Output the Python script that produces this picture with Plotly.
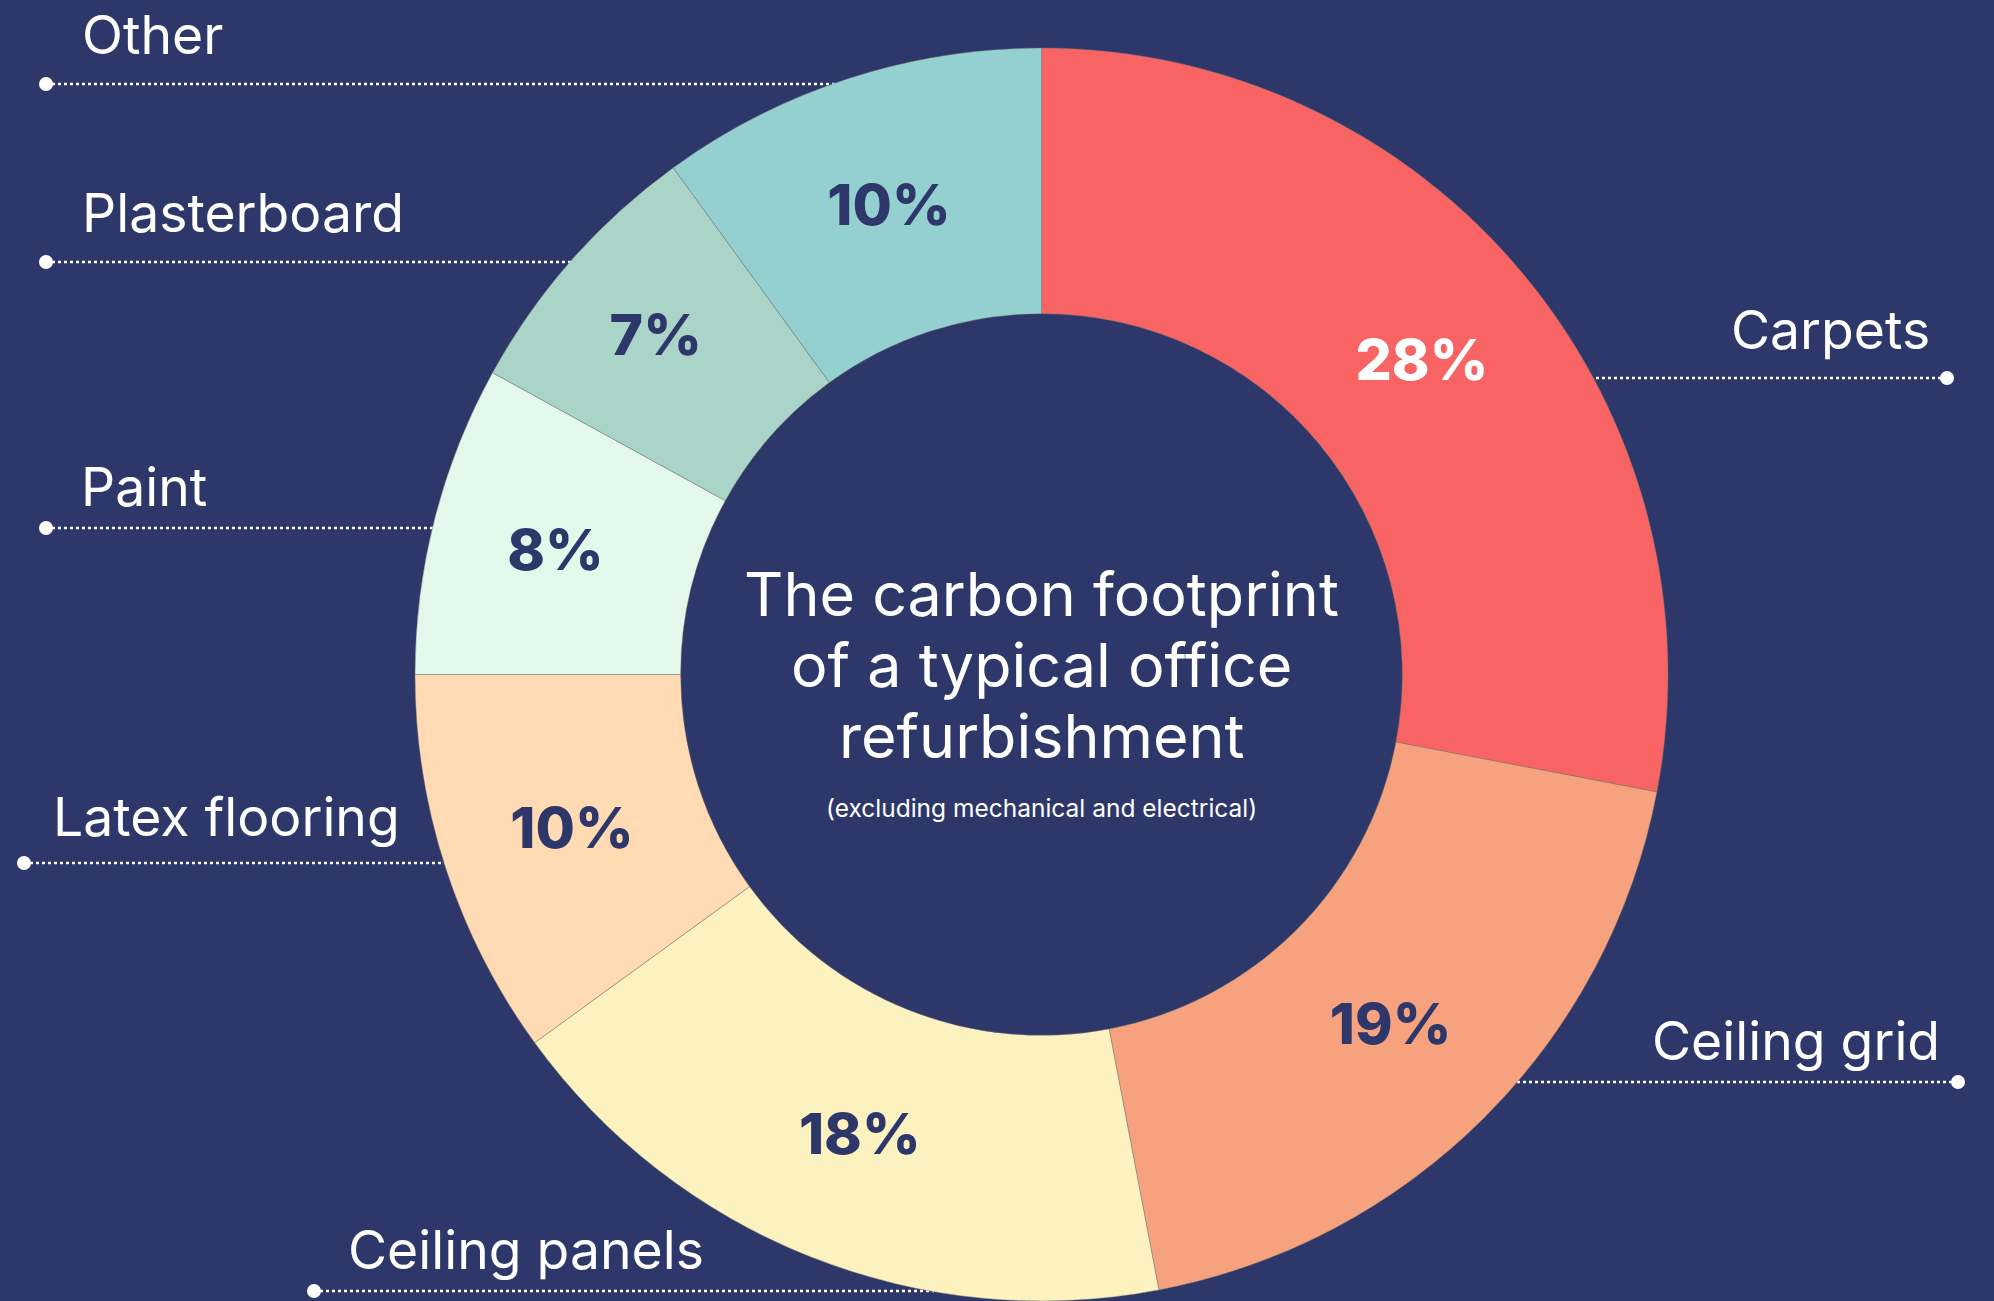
import plotly.graph_objects as go
import numpy as np

# ---- data ----
categories = ["Carpets", "Ceiling grid", "Ceiling panels", "Latex flooring", "Paint", "Plasterboard", "Other"]
values = [28, 19, 18, 10, 8, 7, 10]
colors = ["#F86464", "#F7A27E", "#FCF2C0", "#FFDAB2", "#E3F8EB", "#ABD4C8", "#95D0D0"]
text_colors = ["#FFFFFF", "#2E3769", "#2E3769", "#2E3769", "#2E3769", "#2E3769", "#2E3769"]

title_lines = ["The carbon footprint", "of a typical office", "refurbishment"]
subtitle = "(excluding mechanical and electrical)"

BG = "#2E3769"
W, H = 1994, 1301

# pie geometry (pixels)
CX, CY, R = 1041.5, 674.5, 626.5
HOLE = 0.576

# external label layout: (side, dot_x, line_y, text_x, text_y)
label_layout = {
    "Other":          ("left", 46, 84, 80, 34),
    "Plasterboard":   ("left", 46, 262, 80, 212),
    "Paint":          ("left", 46, 528, 79, 486),
    "Latex flooring": ("left", 24, 863, 51, 816),
    "Ceiling panels": ("left", 314, 1291, 346, 1249),
    "Carpets":        ("right", 1947, 378, 1932, 329),
    "Ceiling grid":   ("right", 1958, 1082, 1942, 1040),
}
title_y = [594, 665, 736]
subtitle_y = 808

FONT = "Inter"

fig = go.Figure()

# leader lines and dots (drawn on hidden pixel axes, beneath the pie)
for cat in categories:
    side, dx, ly, tx, ty = label_layout[cat]
    dy = ly - CY
    half = np.sqrt(max(R**2 - dy**2, 0)) - 4
    ex = CX - half if side == "left" else CX + half
    fig.add_trace(go.Scatter(x=[dx, ex], y=[ly, ly], mode="lines",
                             line=dict(color="white", width=2.5, dash="dot"),
                             hoverinfo="skip", showlegend=False))
    fig.add_trace(go.Scatter(x=[dx], y=[ly], mode="markers",
                             marker=dict(color="white", size=14),
                             hoverinfo="skip", showlegend=False))

fig.add_trace(go.Pie(
    labels=categories,
    values=values,
    sort=False,
    direction="clockwise",
    rotation=0,
    hole=HOLE,
    marker=dict(colors=colors, line=dict(color="rgba(120,120,110,0.45)", width=1)),
    texttemplate="%{value}%",
    textposition="inside",
    insidetextorientation="horizontal",
    textfont=dict(family=FONT, size=57, color=text_colors, weight=800),
    hoverinfo="skip",
    showlegend=False,
    domain=dict(x=[(CX - R) / W, (CX + R) / W], y=[max((H - CY - R) / H, 0), (H - CY + R) / H]),
))

annotations = []
for cat in categories:
    side, dx, ly, tx, ty = label_layout[cat]
    annotations.append(dict(x=tx, y=ty, xref="x", yref="y", text=cat, showarrow=False,
                            xanchor="left" if side == "left" else "right", yanchor="middle",
                            font=dict(family=FONT, size=53.5, color="white")))

for line, yy in zip(title_lines, title_y):
    annotations.append(dict(x=CX, y=yy, xref="x", yref="y", text=line,
                            showarrow=False, xanchor="center", yanchor="middle",
                            font=dict(family=FONT, size=61, color="white")))
annotations.append(dict(x=CX, y=subtitle_y, xref="x", yref="y", text=subtitle,
                        showarrow=False, xanchor="center", yanchor="middle",
                        font=dict(family=FONT, size=24.5, color="white")))

fig.update_layout(
    width=W, height=H,
    margin=dict(l=0, r=0, t=0, b=0),
    paper_bgcolor=BG, plot_bgcolor=BG,
    xaxis=dict(range=[0, W], visible=False, fixedrange=True, domain=[0, 1]),
    yaxis=dict(range=[H, 0], visible=False, fixedrange=True, domain=[0, 1]),
    annotations=annotations,
    showlegend=False,
)

fig.write_html("out.html", config={"displayModeBar": False})
